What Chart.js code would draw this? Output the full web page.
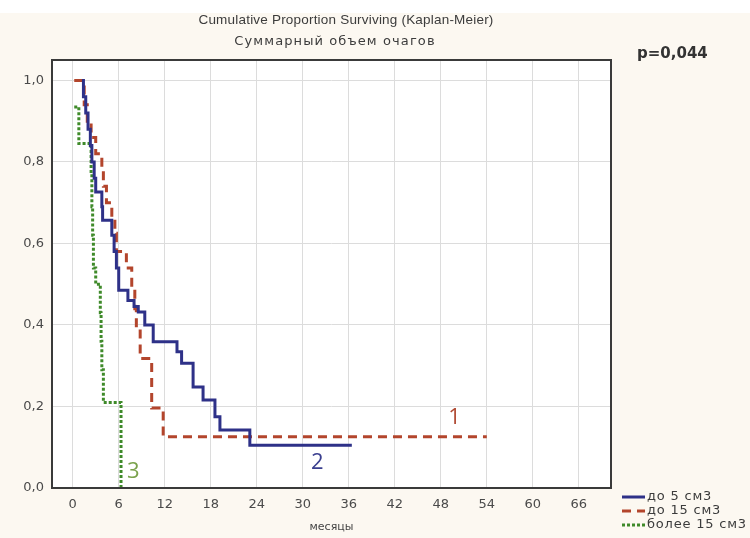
<!DOCTYPE html>
<html>
<head>
<meta charset="utf-8">
<script src="https://cdn.jsdelivr.net/npm/chart.js@4/dist/chart.umd.min.js"></script>
<style>
  html, body { margin: 0; padding: 0; background: #fcf8f1; }
  canvas { display: block; }
</style>
</head>
<body>
<canvas id="km-chart" width="750" height="538"></canvas>
<script>
// survival steps: value holds until the month, then drops to the listed value
const blueMonths = [1.2, 1.4, 1.7, 2.0, 2.3, 2.5, 2.8, 3.0, 3.8, 3.9, 5.1, 5.4, 5.7, 6.0, 7.2, 8.0, 8.55, 9.4, 10.5, 13.6, 14.2, 15.7, 17.0, 18.55, 19.2, 23.1, 36.4];
const blueSurvival = [1.0, 0.96, 0.92, 0.88, 0.84, 0.80, 0.76, 0.726, 0.69, 0.657, 0.62, 0.58, 0.54, 0.485, 0.46, 0.445, 0.432, 0.40, 0.359, 0.334, 0.306, 0.248, 0.216, 0.175, 0.142, 0.105, 0.105];

const redMonths = [0.2, 1.5, 1.9, 2.4, 3.0, 3.8, 4.0, 4.4, 5.1, 5.5, 5.7, 7.0, 7.7, 8.1, 8.3, 8.8, 10.3, 11.8, 54.0];
const redSurvival = [1.0, 0.94, 0.90, 0.86, 0.82, 0.78, 0.74, 0.70, 0.665, 0.625, 0.58, 0.54, 0.49, 0.44, 0.39, 0.318, 0.196, 0.126, 0.126];

const greenMonths = [0.2, 0.8, 2.4, 2.5, 2.6, 2.7, 3.0, 3.6, 3.7, 3.8, 4.0, 6.3];
const greenSurvival = [0.935, 0.845, 0.77, 0.69, 0.62, 0.54, 0.5, 0.43, 0.36, 0.29, 0.21, 0];

const seriesNames = ['до 5 см3', 'до 15 см3', 'более 15 см3'];
const xTickValues = [0, 6, 12, 18, 24, 30, 36, 42, 48, 54, 60, 66];
const yTickValues = [0, 0.2, 0.4, 0.6, 0.8, 1.0];

const curveTags = ['1', '2', '3'];
const curveTagMonth = [49.8, 31.9, 7.9];
const curveTagSurv = [0.172, 0.061, 0.039];
const curveTagColors = ['#b04a33', '#3a3f8f', '#7aa24c'];

const titleLines = ['Cumulative Proportion Surviving (Kaplan-Meier)', 'Суммарный объем очагов'];
const pValueText = 'p=0,044';

function toPoints(xs, ys) {
  return xs.map((x, i) => ({ x: x, y: ys[i] }));
}

const decorPlugin = {
  id: 'decor',
  beforeDraw(chart) {
    const ctx = chart.ctx;
    const area = chart.chartArea;
    ctx.save();
    ctx.fillStyle = '#fcf8f1';
    ctx.fillRect(0, 0, chart.width, chart.height);
    ctx.fillStyle = '#ffffff';
    ctx.fillRect(0, 0, chart.width, 13);
    ctx.fillRect(area.left, area.top, area.right - area.left, area.bottom - area.top);
    ctx.restore();
  },
  afterDatasetsDraw(chart) {
    const ctx = chart.ctx;
    const area = chart.chartArea;
    const xs = chart.scales.x;
    const ys = chart.scales.y;
    ctx.save();
    // frame
    ctx.strokeStyle = '#3a3a3a';
    ctx.lineWidth = 2;
    ctx.strokeRect(area.left, area.top, area.right - area.left, area.bottom - area.top);

    // curve numbers
    ctx.font = '22px "Open Sans", sans-serif';
    ctx.textAlign = 'center';
    ctx.textBaseline = 'middle';
    curveTags.forEach((t, i) => {
      ctx.fillStyle = curveTagColors[i];
      ctx.fillText(t, xs.getPixelForValue(curveTagMonth[i]), ys.getPixelForValue(curveTagSurv[i]));
    });
    ctx.restore();
  },
  afterDraw(chart) {
    const ctx = chart.ctx;
    ctx.save();
    // titles
    ctx.fillStyle = '#3c3c3c';
    ctx.textAlign = 'center';
    ctx.textBaseline = 'middle';
    ctx.font = '13.5px "Liberation Sans", Arial, sans-serif';
    ctx.letterSpacing = '0.2px';
    ctx.fillText(titleLines[0], 346, 20);
    ctx.font = '13px "DejaVu Sans", sans-serif';
    ctx.letterSpacing = '1.1px';
    ctx.fillText(titleLines[1], 335, 42);

    // p value
    ctx.letterSpacing = '0px';
    ctx.font = 'bold 15px "DejaVu Sans", sans-serif';
    ctx.textAlign = 'left';
    ctx.fillStyle = '#333333';
    ctx.fillText(pValueText, 637, 54);

    // legend
    ctx.font = '13px "DejaVu Sans", sans-serif';
    ctx.letterSpacing = '0.8px';
    chart.data.datasets.forEach((ds, i) => {
      const y = 497 + i * 14;
      ctx.strokeStyle = ds.borderColor;
      ctx.lineWidth = 3;
      ctx.setLineDash(ds.borderDash || []);
      ctx.beginPath();
      ctx.moveTo(622, y);
      ctx.lineTo(645, y);
      ctx.stroke();
      ctx.setLineDash([]);
      ctx.fillStyle = '#3c3c3c';
      ctx.fillText(ds.label, 647, y);
    });
    ctx.restore();
  }
};

const tickFont = { family: '"DejaVu Sans", sans-serif', size: 13 };

new Chart(document.getElementById('km-chart'), {
  type: 'line',
  data: {
    datasets: [
      {
        label: seriesNames[0],
        data: toPoints(blueMonths, blueSurvival),
        borderColor: '#2e3188',
        borderWidth: 3,
        stepped: 'before',
        pointRadius: 0,
        fill: false
      },
      {
        label: seriesNames[1],
        data: toPoints(redMonths, redSurvival),
        borderColor: '#b3452c',
        borderWidth: 3,
        borderDash: [9, 6],
        stepped: 'before',
        pointRadius: 0,
        fill: false
      },
      {
        label: seriesNames[2],
        data: toPoints(greenMonths, greenSurvival),
        borderColor: '#3f8a2a',
        borderWidth: 3,
        borderDash: [3, 2],
        stepped: 'before',
        pointRadius: 0,
        fill: false
      }
    ]
  },
  options: {
    responsive: false,
    animation: false,
    devicePixelRatio: 1,
    layout: { padding: { top: 60, right: 139, bottom: 0, left: 0 } },
    plugins: {
      legend: { display: false },
      title: { display: false },
      tooltip: { enabled: false }
    },
    scales: {
      x: {
        type: 'linear',
        min: -2.7,
        max: 70.2,
        afterBuildTicks: (s) => { s.ticks = xTickValues.map(v => ({ value: v })); },
        afterFit: (s) => { s.height = 50; },
        ticks: { font: tickFont, color: '#4a4a4a', padding: 9, maxRotation: 0, autoSkip: false },
        grid: { color: '#dcdcdc', lineWidth: 1, drawTicks: false },
        border: { display: false },
        title: {
          display: true,
          text: 'месяцы',
          font: { family: '"DejaVu Sans", sans-serif', size: 11 },
          color: '#444444',
          padding: { top: 0, bottom: 4 }
        }
      },
      y: {
        type: 'linear',
        min: 0,
        max: 1.05,
        afterBuildTicks: (s) => { s.ticks = yTickValues.map(v => ({ value: v })); },
        afterFit: (s) => { s.width = 52; },
        ticks: {
          font: tickFont,
          color: '#4a4a4a',
          padding: 8,
          callback: (v) => v.toFixed(1).replace('.', ',')
        },
        grid: { color: '#dcdcdc', lineWidth: 1, drawTicks: false },
        border: { display: false }
      }
    }
  },
  plugins: [decorPlugin]
});
</script>
</body>
</html>
